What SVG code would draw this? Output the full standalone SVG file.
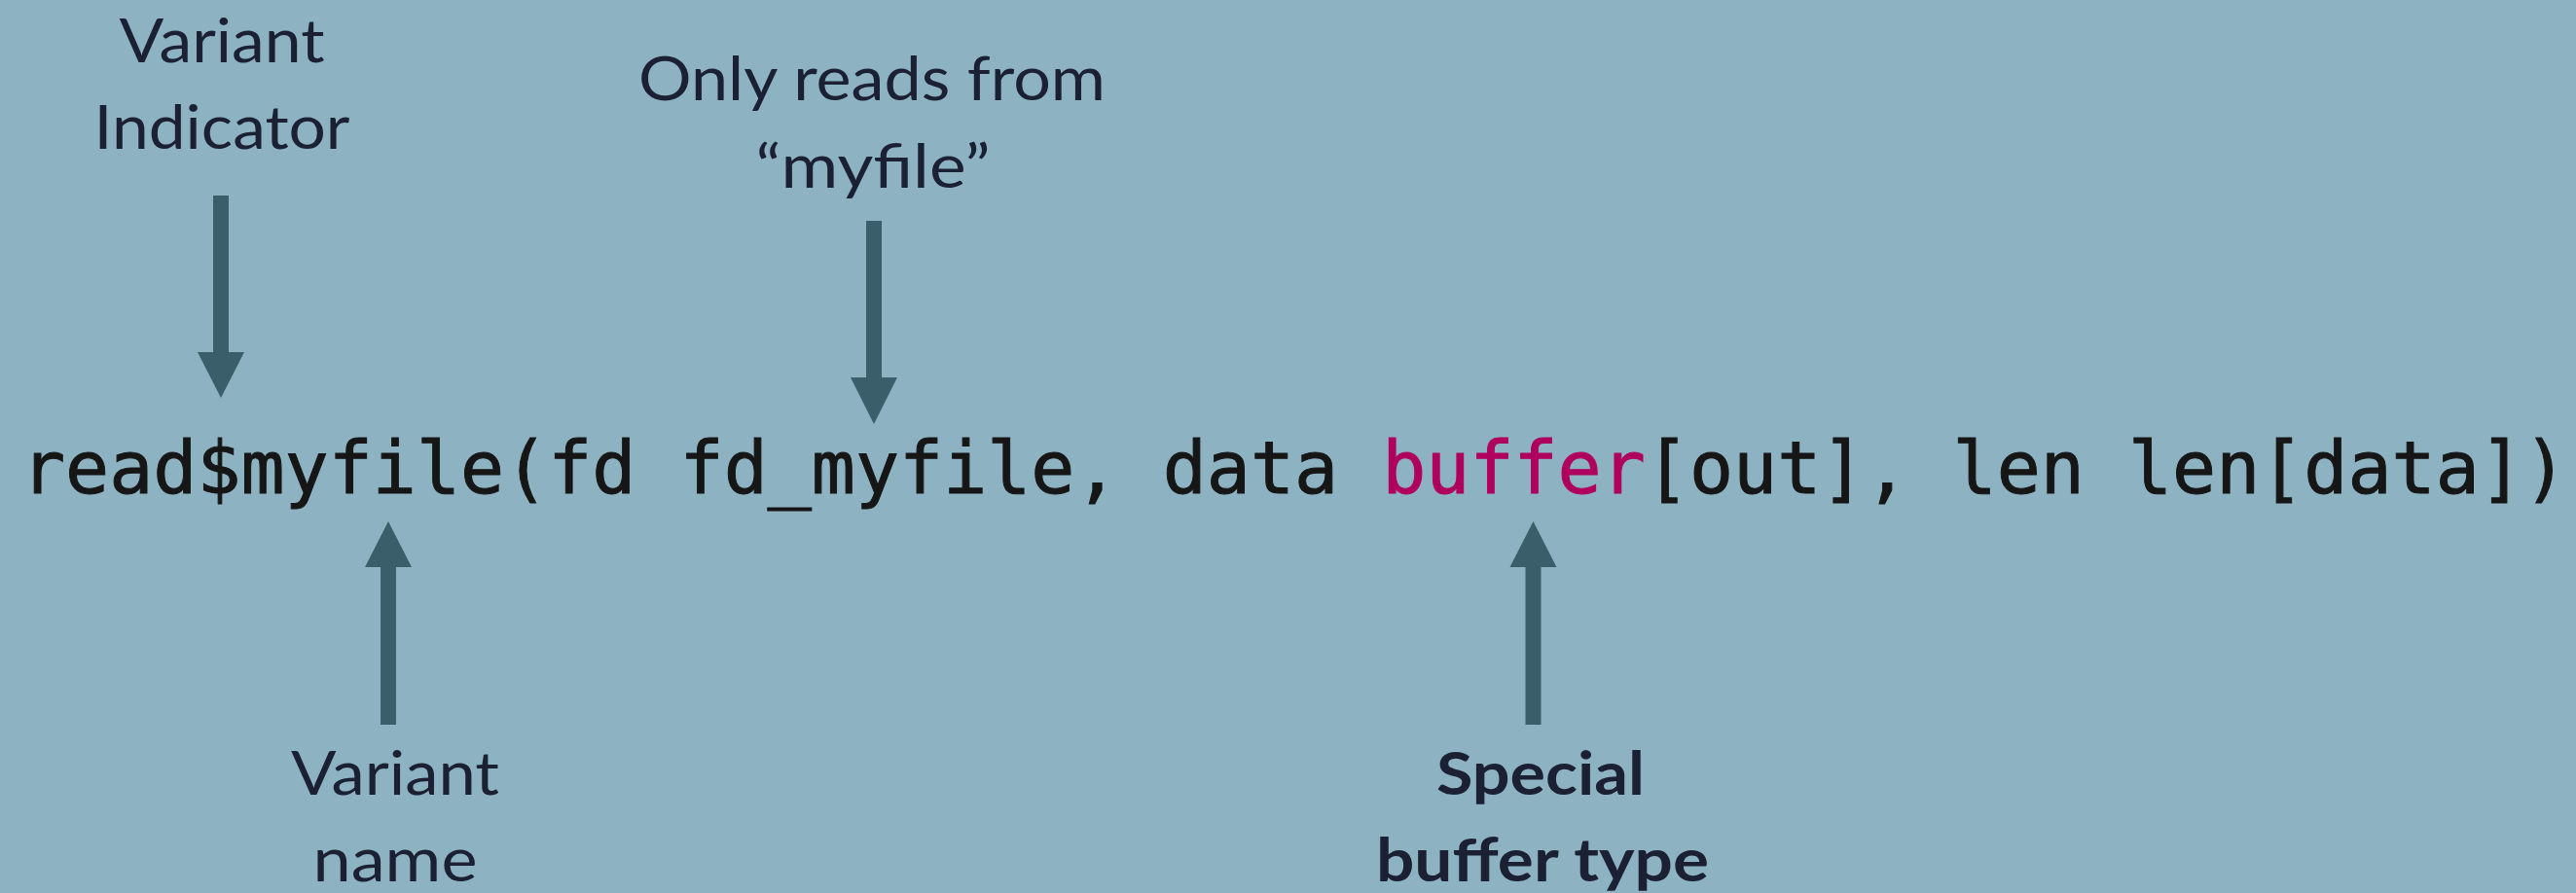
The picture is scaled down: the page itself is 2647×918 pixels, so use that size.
<svg xmlns="http://www.w3.org/2000/svg" width="2647" height="918" viewBox="0 0 2647 918">
<style>
.lbl{font-family:Lato,"Open Sans",sans-serif;font-size:61px;fill:#1b2033;text-anchor:middle}
.b{font-weight:bold}
.code{font-family:"DejaVu Sans Mono","Liberation Mono",monospace;font-size:75px;fill:#161616;stroke:#161616;stroke-width:1}
.hl{fill:#b0005e;stroke:#b0005e}
.arr{fill:#3a5f6b}
</style>
<rect width="2647" height="918" fill="#8db3c2"/>
<g id="code">
<text class="code" x="22" y="507" textLength="2616" lengthAdjust="spacingAndGlyphs">read$myfile(fd fd_myfile, data <tspan class="hl">buffer</tspan>[out], len len[data])</text>
</g>
<g id="label-variant-indicator">
<text class="lbl" x="228" y="64" textLength="211" lengthAdjust="spacingAndGlyphs">Variant</text>
<text class="lbl" x="228" y="153" textLength="263" lengthAdjust="spacingAndGlyphs">Indicator</text>
</g>
<g id="label-only-reads">
<text class="lbl" x="896" y="103" textLength="480" lengthAdjust="spacingAndGlyphs">Only reads from</text>
<text class="lbl" x="897" y="193" textLength="241" lengthAdjust="spacingAndGlyphs">“myfile”</text>
</g>
<g id="label-variant-name">
<text class="lbl" x="406" y="817" textLength="214" lengthAdjust="spacingAndGlyphs">Variant</text>
<text class="lbl" x="406" y="906" textLength="169" lengthAdjust="spacingAndGlyphs">name</text>
</g>
<g id="label-special-buffer">
<text class="lbl b" x="1583" y="817" textLength="214" lengthAdjust="spacingAndGlyphs">Special</text>
<text class="lbl b" x="1585" y="906" textLength="342" lengthAdjust="spacingAndGlyphs">buffer type</text>
</g>
<g id="connectors">
<path class="arr" d="M219 201H235V362H251L227 409L203 362H219Z"/>
<path class="arr" d="M890 227H906V388H922L898 436L874 388H890Z"/>
<path class="arr" d="M391 745H407V583H423L399 536L375 583H391Z"/>
<path class="arr" d="M1567.5 745H1583.5V583H1599.5L1575.5 536L1551.5 583H1567.5Z"/>
</g>
</svg>
